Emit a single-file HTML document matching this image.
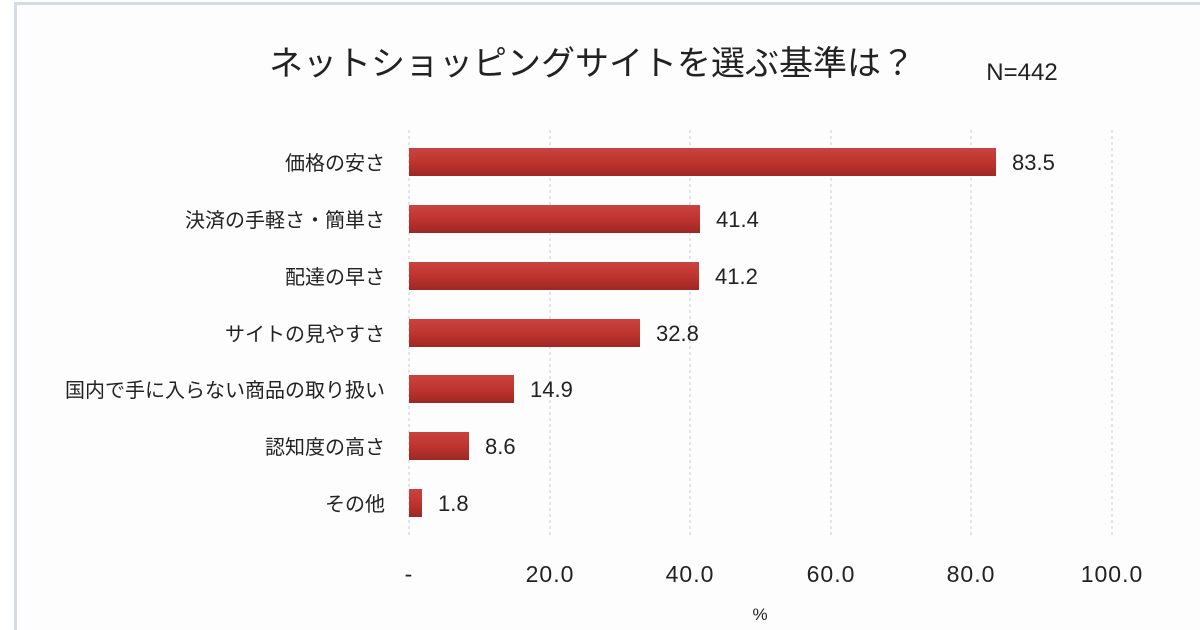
<!DOCTYPE html>
<html><head><meta charset="utf-8"><style>
body{margin:0;background:#fff;width:1200px;height:630px;overflow:hidden}
svg{display:block}
text{font-family:"Liberation Sans","Noto Sans CJK JP",sans-serif;fill:#222}
</style></head><body>
<svg width="1200" height="630" viewBox="0 0 1200 630">
<defs><linearGradient id="g" x1="0" y1="0" x2="0" y2="1">
<stop offset="0" stop-color="#c84440"/><stop offset="0.5" stop-color="#c0342f"/><stop offset="1" stop-color="#9c2824"/></linearGradient></defs>
<rect x="0" y="0" width="1200" height="630" fill="#fff"/>
<rect x="15.5" y="3.5" width="1190" height="640" fill="#fdfdfd" stroke="#d4dae6" stroke-width="3"/>
<text x="592" y="75" font-size="34" text-anchor="middle">ネットショッピングサイトを選ぶ基準は？</text>
<text x="1022" y="80" font-size="24" text-anchor="middle">N=442</text>
<g stroke="#d8dce4" stroke-width="1.5" stroke-dasharray="3,3">
<line x1="409" y1="130" x2="409" y2="535"/><line x1="550" y1="130" x2="550" y2="535"/><line x1="690" y1="130" x2="690" y2="535"/><line x1="831" y1="130" x2="831" y2="535"/><line x1="971" y1="130" x2="971" y2="535"/><line x1="1112" y1="130" x2="1112" y2="535"/>
</g>
<g fill="url(#g)">
<rect x="409" y="148" width="587" height="28"/>
<rect x="409" y="205" width="291" height="28"/>
<rect x="409" y="262" width="290" height="28"/>
<rect x="409" y="319" width="231" height="28"/>
<rect x="409" y="375" width="105" height="28"/>
<rect x="409" y="432" width="60" height="28"/>
<rect x="409" y="489" width="13" height="28"/>
</g>
<g font-size="22">
<text x="1012" y="170">83.5</text><text x="716" y="227">41.4</text><text x="715" y="284">41.2</text><text x="656" y="341">32.8</text><text x="530" y="397">14.9</text><text x="485" y="454">8.6</text><text x="438" y="511">1.8</text>
</g>
<g font-size="20" text-anchor="end">
<text x="385" y="170">価格の安さ</text><text x="385" y="227">決済の手軽さ・簡単さ</text><text x="385" y="284">配達の早さ</text><text x="385" y="341">サイトの見やすさ</text><text x="385" y="397">国内で手に入らない商品の取り扱い</text><text x="385" y="454">認知度の高さ</text><text x="385" y="511">その他</text>
</g>
<g font-size="23" text-anchor="middle" letter-spacing="1">
<text x="409" y="582">-</text><text x="550" y="582">20.0</text><text x="690" y="582">40.0</text><text x="831" y="582">60.0</text><text x="971" y="582">80.0</text><text x="1112" y="582">100.0</text>
</g>
<text x="760" y="620" font-size="17" text-anchor="middle">%</text>
</svg>
</body></html>
